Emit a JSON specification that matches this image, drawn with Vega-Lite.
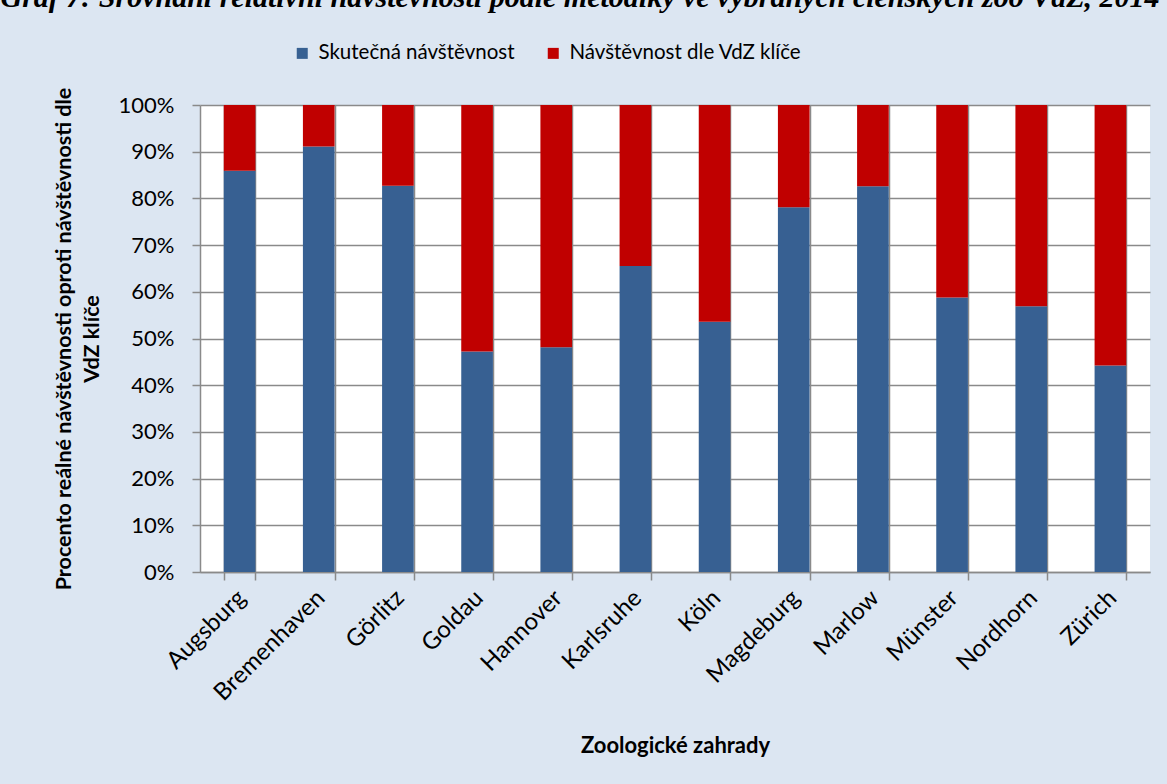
{
  "$schema": "https://vega.github.io/schema/vega-lite/v6.json",
  "width": 950,
  "height": 467,
  "autosize": {"type": "none"},
  "padding": {"left": 200, "top": 105, "right": 17, "bottom": 212},
  "background": "#dce6f2",
  "title": {
    "text": "Graf 7: Srovnání relativní návštěvnosti podle metodiky ve vybraných členských zoo VdZ, 2014",
    "font": "Liberation Serif",
    "fontStyle": "italic",
    "fontWeight": "bold",
    "fontSize": 30,
    "color": "black",
    "anchor": "middle",
    "frame": "group",
    "dx": -95,
    "offset": 30
  },
  "data": {
    "values": [
      {"zoo": "Augsburg", "typ": "Skutečná návštěvnost", "poradi": 1, "procento": 85.9},
      {"zoo": "Augsburg", "typ": "Návštěvnost dle VdZ klíče", "poradi": 2, "procento": 14.1},
      {"zoo": "Bremenhaven", "typ": "Skutečná návštěvnost", "poradi": 1, "procento": 91.1},
      {"zoo": "Bremenhaven", "typ": "Návštěvnost dle VdZ klíče", "poradi": 2, "procento": 8.9},
      {"zoo": "Görlitz", "typ": "Skutečná návštěvnost", "poradi": 1, "procento": 82.7},
      {"zoo": "Görlitz", "typ": "Návštěvnost dle VdZ klíče", "poradi": 2, "procento": 17.3},
      {"zoo": "Goldau", "typ": "Skutečná návštěvnost", "poradi": 1, "procento": 47.2},
      {"zoo": "Goldau", "typ": "Návštěvnost dle VdZ klíče", "poradi": 2, "procento": 52.8},
      {"zoo": "Hannover", "typ": "Skutečná návštěvnost", "poradi": 1, "procento": 48.1},
      {"zoo": "Hannover", "typ": "Návštěvnost dle VdZ klíče", "poradi": 2, "procento": 51.9},
      {"zoo": "Karlsruhe", "typ": "Skutečná návštěvnost", "poradi": 1, "procento": 65.5},
      {"zoo": "Karlsruhe", "typ": "Návštěvnost dle VdZ klíče", "poradi": 2, "procento": 34.5},
      {"zoo": "Köln", "typ": "Skutečná návštěvnost", "poradi": 1, "procento": 53.6},
      {"zoo": "Köln", "typ": "Návštěvnost dle VdZ klíče", "poradi": 2, "procento": 46.4},
      {"zoo": "Magdeburg", "typ": "Skutečná návštěvnost", "poradi": 1, "procento": 78.1},
      {"zoo": "Magdeburg", "typ": "Návštěvnost dle VdZ klíče", "poradi": 2, "procento": 21.9},
      {"zoo": "Marlow", "typ": "Skutečná návštěvnost", "poradi": 1, "procento": 82.6},
      {"zoo": "Marlow", "typ": "Návštěvnost dle VdZ klíče", "poradi": 2, "procento": 17.4},
      {"zoo": "Münster", "typ": "Skutečná návštěvnost", "poradi": 1, "procento": 58.8},
      {"zoo": "Münster", "typ": "Návštěvnost dle VdZ klíče", "poradi": 2, "procento": 41.2},
      {"zoo": "Nordhorn", "typ": "Skutečná návštěvnost", "poradi": 1, "procento": 56.9},
      {"zoo": "Nordhorn", "typ": "Návštěvnost dle VdZ klíče", "poradi": 2, "procento": 43.1},
      {"zoo": "Zürich", "typ": "Skutečná návštěvnost", "poradi": 1, "procento": 44.2},
      {"zoo": "Zürich", "typ": "Návštěvnost dle VdZ klíče", "poradi": 2, "procento": 55.8}
    ]
  },
  "mark": {"type": "bar"},
  "encoding": {
    "x": {
      "field": "zoo",
      "type": "nominal",
      "sort": null,
      "scale": {"paddingInner": 0.6, "paddingOuter": 0.3},
      "axis": {
        "title": "Zoologické zahrady",
        "labelAngle": -45,
        "labelAlign": "right",
        "labelBaseline": "middle",
        "labelFontSize": 24,
        "labelColor": "black",
        "labelPadding": 14,
        "labelOffset": 2,
        "tickBand": "extent",
        "tickSize": 8,
        "tickColor": "#8a8a8a",
        "tickWidth": 1.5,
        "domainColor": "#8a8a8a",
        "domainWidth": 1.5,
        "grid": true,
        "gridColor": "#8a8a8a",
        "gridWidth": 1.5,
        "titleFontSize": 22,
        "titleFontWeight": "bold",
        "titleColor": "black",
        "titlePadding": 30
      }
    },
    "y": {
      "field": "procento",
      "type": "quantitative",
      "stack": "zero",
      "scale": {"domain": [0, 100], "nice": false},
      "axis": {
        "title": ["Procento reálné návštěvnosti oproti návštěvnosti dle", "VdZ klíče"],
        "values": [0, 10, 20, 30, 40, 50, 60, 70, 80, 90, 100],
        "labelExpr": "datum.value + '%'",
        "labelFontSize": 22,
        "labelColor": "black",
        "labelPadding": 18,
        "tickSize": 8,
        "tickColor": "#8a8a8a",
        "tickWidth": 1.5,
        "domainColor": "#8a8a8a",
        "domainWidth": 1.5,
        "grid": true,
        "gridColor": "#8a8a8a",
        "gridWidth": 1.5,
        "titleFontSize": 21.5,
        "titleFontWeight": "bold",
        "titleColor": "black",
        "titlePadding": 15,
        "titleLineHeight": 28
      }
    },
    "color": {
      "field": "typ",
      "type": "nominal",
      "scale": {
        "domain": ["Skutečná návštěvnost", "Návštěvnost dle VdZ klíče"],
        "range": ["#376092", "#c00000"]
      },
      "legend": {
        "title": null,
        "orient": "none",
        "legendX": 92,
        "legendY": -62,
        "direction": "horizontal",
        "symbolType": "square",
        "symbolSize": 121,
        "symbolStrokeWidth": 0,
        "labelFontSize": 20.5,
        "labelColor": "black",
        "labelLimit": 0,
        "labelOffset": 6,
        "columnPadding": 28,
        "padding": 0
      }
    },
    "order": {"field": "poradi", "type": "quantitative"}
  },
  "config": {
    "font": "Lato",
    "view": {"fill": "white", "stroke": null}
  }
}
